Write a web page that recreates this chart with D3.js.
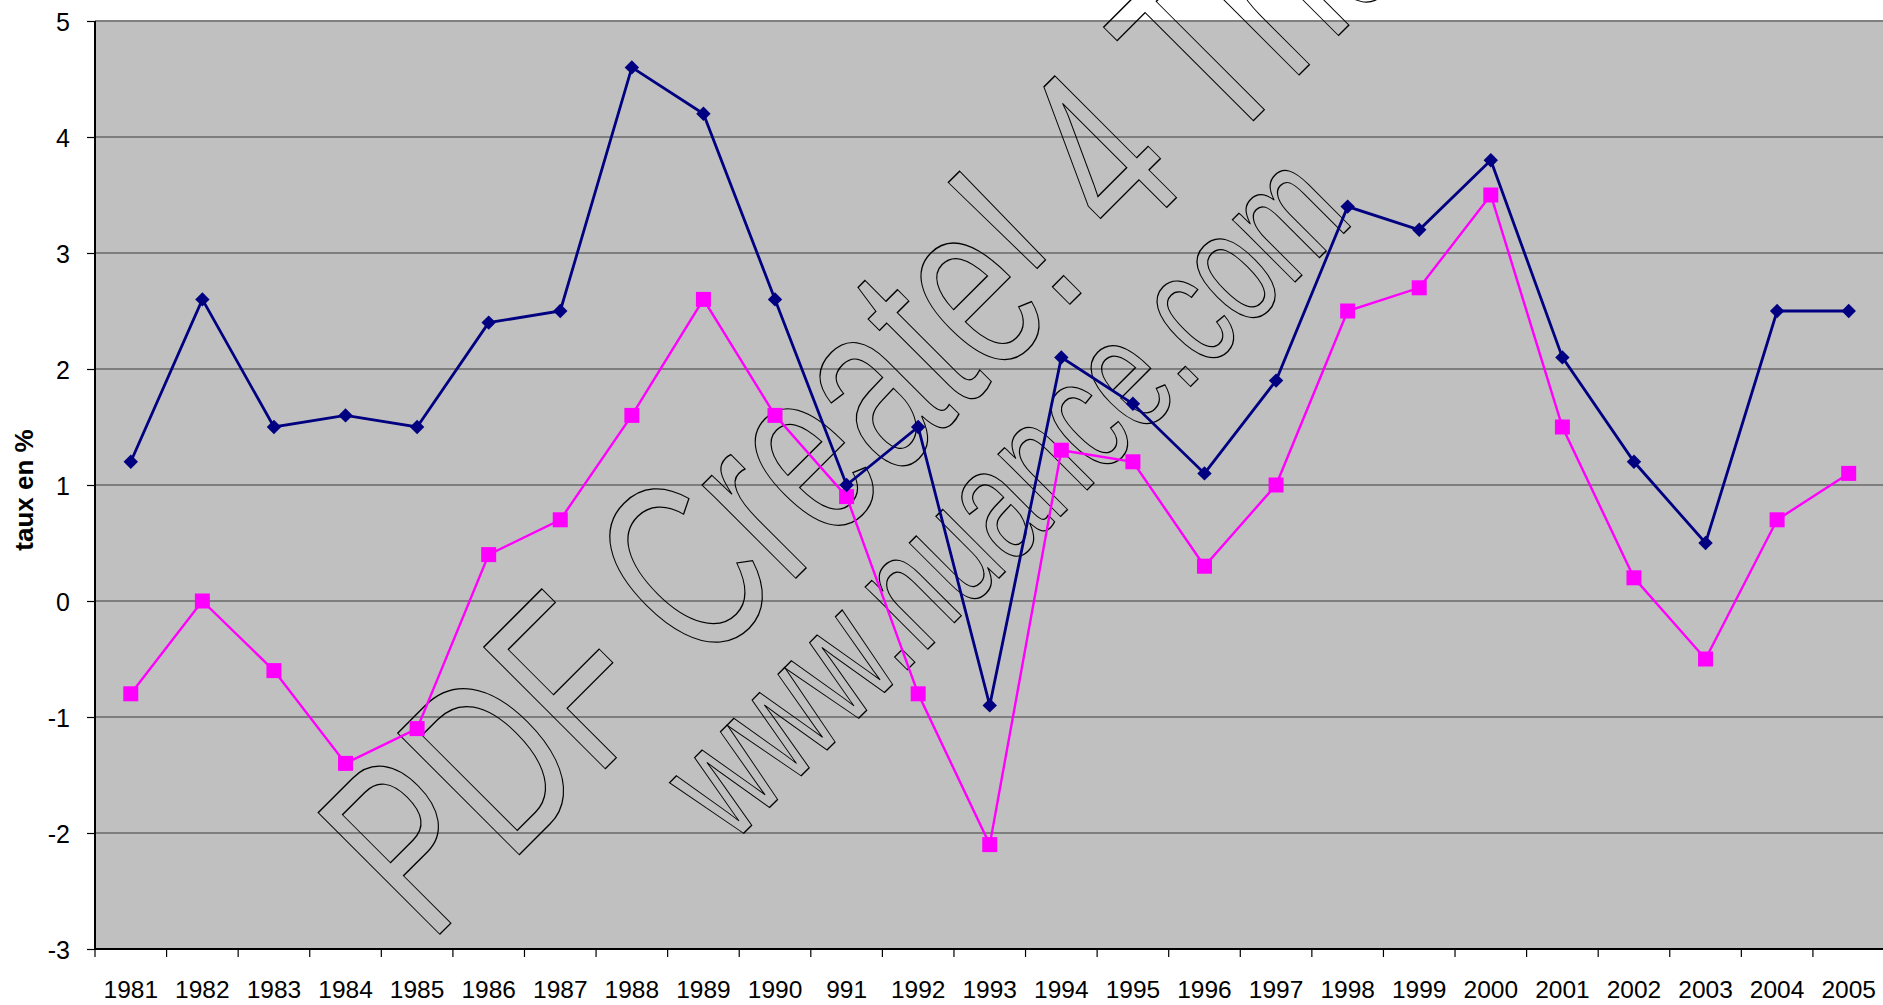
<!DOCTYPE html>
<html>
<head>
<meta charset="utf-8">
<script src="https://cdn.jsdelivr.net/npm/d3@7"></script>
<style>
  html, body { margin: 0; padding: 0; background: #fff; overflow: hidden; }
  svg { display: block; font-family: "Liberation Sans", Arial, sans-serif; }
</style>
</head>
<body>
<svg id="chart" width="1883" height="1005"></svg>
<script>
// categories as printed on the axis (the "991" is in the original)
const years = ["1981","1982","1983","1984","1985","1986","1987","1988","1989","1990",
               "991","1992","1993","1994","1995","1996","1997","1998","1999","2000",
               "2001","2002","2003","2004","2005"];

// navy series (diamonds)
const navyValues = [1.2, 2.6, 1.5, 1.6, 1.5, 2.4, 2.5, 4.6, 4.2, 2.6,
                    1.0, 1.5, -0.9, 2.1, 1.7, 1.1, 1.9, 3.4, 3.2, 3.8,
                    2.1, 1.2, 0.5, 2.5, 2.5];

// magenta series (squares)
const pinkValues = [-0.8, 0.0, -0.6, -1.4, -1.1, 0.4, 0.7, 1.6, 2.6, 1.6,
                    0.9, -0.8, -2.1, 1.3, 1.2, 0.3, 1.0, 2.5, 2.7, 3.5,
                    1.5, 0.2, -0.5, 0.7, 1.1];

const yTicks = [-3, -2, -1, 0, 1, 2, 3, 4, 5];
const yTitle = "taux en %";
const watermark = ["PDF Create! 4 Trial", "www.nuance.com"];

const svg = d3.select("#chart");

const plotLeft = 95, plotTop = 21, plotBottom = 949;
const band = 71.58;

const x = d3.scaleBand()
    .domain(years)
    .range([plotLeft, plotLeft + band * years.length])
    .padding(0);

const y = d3.scaleLinear()
    .domain([-3, 5])
    .range([plotBottom, plotTop]);

const cx = d => x(d) + x.bandwidth() / 2;

// plot background
svg.append("rect")
    .attr("x", plotLeft)
    .attr("y", plotTop)
    .attr("width", x.range()[1] - plotLeft)
    .attr("height", plotBottom - plotTop)
    .attr("fill", "#c0c0c0");

// horizontal grid lines
svg.append("g")
    .selectAll("line")
    .data(yTicks.filter(t => t > -3 && t < 5))
    .enter()
    .append("line")
    .attr("x1", plotLeft)
    .attr("x2", 1883)
    .attr("y1", d => y(d))
    .attr("y2", d => y(d))
    .attr("stroke", "#3c3c3c")
    .attr("stroke-width", 1.2);

// top border of the plot area
svg.append("line")
    .attr("x1", plotLeft).attr("x2", 1883)
    .attr("y1", plotTop).attr("y2", plotTop)
    .attr("stroke", "#808080")
    .attr("stroke-width", 2);

// watermark (outlined text)
const wm = svg.append("g")
    .attr("fill", "none")
    .attr("stroke", "#000")
    .attr("stroke-width", 1.2);

wm.append("text")
    .attr("transform", "translate(430,944) rotate(-45) scale(0.674,1)")
    .attr("font-size", 250)
    .style("vector-effect", "non-scaling-stroke")
    .text(watermark[0]);

wm.append("text")
    .attr("transform", "translate(732,845) rotate(-45) scale(0.674,1)")
    .attr("font-size", 167)
    .style("vector-effect", "non-scaling-stroke")
    .text(watermark[1]);

// y axis (plain hyphen for negatives, like the original)
const yAxis = d3.axisLeft(y)
    .tickValues(yTicks)
    .tickFormat(d => String(d))
    .tickSize(8)
    .tickPadding(17);

const gy = svg.append("g")
    .attr("transform", `translate(${plotLeft},0)`)
    .call(yAxis);
gy.select(".domain").remove();
gy.selectAll(".tick line").attr("stroke", "#000").attr("stroke-width", 1.2);
gy.selectAll(".tick text")
    .attr("font-size", 25)
    .attr("font-family", "'Liberation Sans', Arial, sans-serif")
    .attr("fill", "#000")
    .attr("dy", "0.36em");

svg.append("line")
    .attr("x1", plotLeft).attr("x2", plotLeft)
    .attr("y1", plotTop).attr("y2", plotBottom + 1)
    .attr("stroke", "#000")
    .attr("stroke-width", 2);

// x axis
svg.append("line")
    .attr("x1", plotLeft).attr("x2", 1883)
    .attr("y1", plotBottom).attr("y2", plotBottom)
    .attr("stroke", "#000")
    .attr("stroke-width", 2);

svg.append("g")
    .selectAll("line")
    .data(years)
    .enter()
    .append("line")
    .attr("x1", d => x(d))
    .attr("x2", d => x(d))
    .attr("y1", plotBottom)
    .attr("y2", plotBottom + 8)
    .attr("stroke", "#000")
    .attr("stroke-width", 1.2);

svg.append("g")
    .selectAll("text")
    .data(years)
    .enter()
    .append("text")
    .attr("x", d => cx(d))
    .attr("y", 998)
    .attr("text-anchor", "middle")
    .attr("font-size", 24.5)
    .attr("fill", "#000")
    .text(d => d);

// y title
svg.append("text")
    .attr("transform", "translate(33,490) rotate(-90)")
    .attr("text-anchor", "middle")
    .attr("font-size", 26)
    .attr("font-weight", "bold")
    .attr("fill", "#000")
    .text(yTitle);

// series
const line = d3.line()
    .x((d, i) => cx(years[i]))
    .y(d => y(d));

svg.append("path")
    .datum(pinkValues)
    .attr("d", line)
    .attr("fill", "none")
    .attr("stroke", "#ff00ff")
    .attr("stroke-width", 2.4);

svg.append("path")
    .datum(navyValues)
    .attr("d", line)
    .attr("fill", "none")
    .attr("stroke", "#000080")
    .attr("stroke-width", 2.8);

svg.append("g")
    .selectAll("rect")
    .data(pinkValues)
    .enter()
    .append("rect")
    .attr("x", (d, i) => cx(years[i]) - 7.5)
    .attr("y", d => y(d) - 7.5)
    .attr("width", 15)
    .attr("height", 15)
    .attr("fill", "#ff00ff");

const diamond = d3.symbol().type(d3.symbolSquare).size(104);

svg.append("g")
    .selectAll("path")
    .data(navyValues)
    .enter()
    .append("path")
    .attr("d", diamond)
    .attr("transform", (d, i) => `translate(${cx(years[i])},${y(d)}) rotate(45)`)
    .attr("fill", "#000080");
</script>
</body>
</html>
